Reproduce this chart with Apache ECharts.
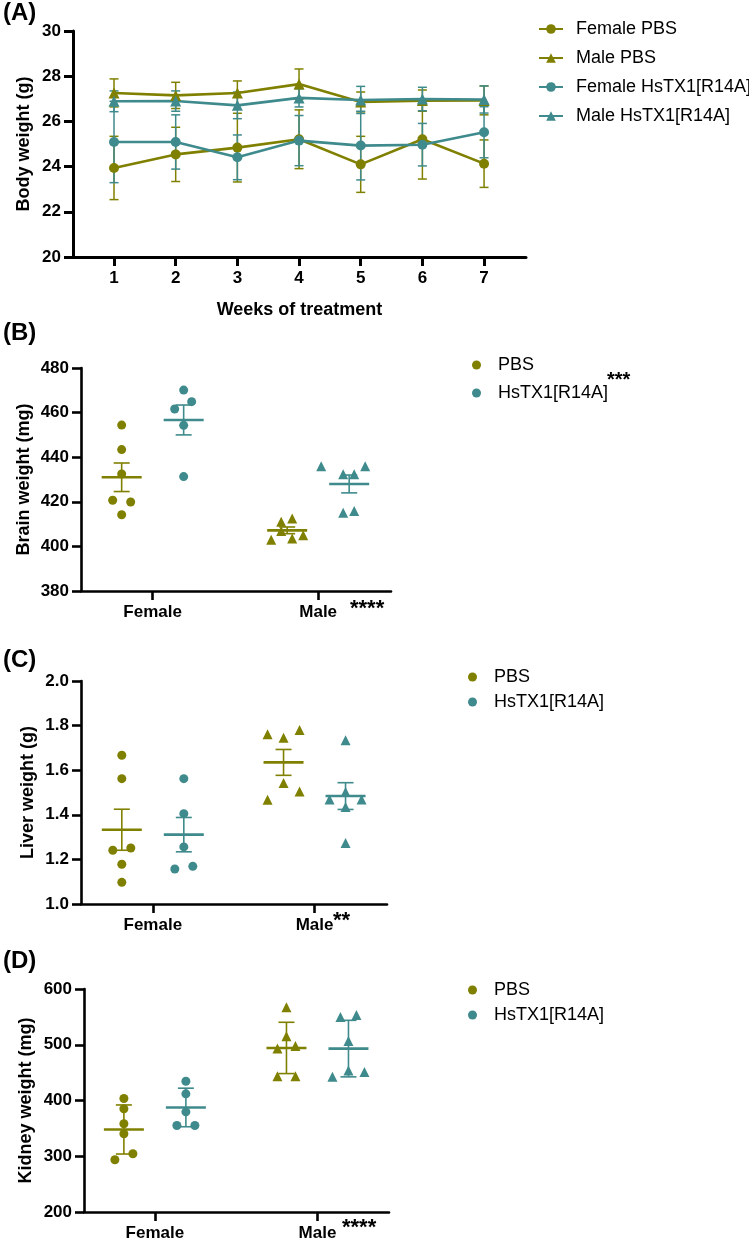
<!DOCTYPE html>
<html>
<head>
<meta charset="utf-8">
<script src="https://cdn.jsdelivr.net/npm/echarts@6/dist/echarts.min.js"></script>
<style>
  html, body { margin: 0; padding: 0; background: #fff; }
  #main { width: 749px; height: 1243px; }
</style>
</head>
<body>
<div id="main"></div>
<script>
// ---------------- DATA ----------------
// Panel A: body weight (g) by week
const weeks = [1, 2, 3, 4, 5, 6, 7];
const femalePBS      = [23.94, 24.54, 24.84, 25.21, 24.10, 25.21, 24.13];
const femalePBSErr   = [1.40, 1.20, 1.52, 1.30, 1.24, 1.76, 1.05];
const malePBS        = [27.26, 27.15, 27.26, 27.65, 26.86, 26.92, 26.93];
const malePBSErr     = [0.62, 0.58, 0.53, 0.67, 0.44, 0.47, 0.64];
const femaleHs       = [25.09, 25.09, 24.41, 25.15, 24.93, 24.97, 25.52];
const femaleHsErr    = [1.80, 1.20, 0.99, 1.11, 1.52, 0.94, 1.13];
const maleHs         = [26.89, 26.90, 26.71, 27.04, 26.95, 26.99, 26.97];
const maleHsErr      = [0.46, 0.45, 0.59, 0.40, 0.60, 0.52, 0.60];

const sexCategories = ['Female', 'Male'];

// Panel B: brain weight (mg)
const brainFemalePBS = [454.4, 443.4, 432.5, 420.7, 419.9, 414.2];
const brainFemaleHs  = [470.1, 464.9, 461.6, 454.3, 431.3];
const brainMalePBS   = [403.0, 411.1, 412.5, 406.9, 403.5, 405.0];
const brainMaleHs    = [435.9, 432.3, 432.3, 435.9, 415.1, 415.9];
const brainMeanPBS   = [431.0, 407.2];
const brainErrPBS    = [6.4, 1.5];
const brainMeanHs    = [456.7, 428.0];
const brainErrHs     = [6.7, 4.0];

// Panel C: liver weight (g)
const liverFemalePBS = [1.667, 1.562, 1.241, 1.251, 1.178, 1.097];
const liverFemaleHs  = [1.562, 1.405, 1.256, 1.157, 1.169];
const liverMalePBS   = [1.761, 1.746, 1.780, 1.543, 1.505, 1.468];
const liverMaleHs    = [1.734, 1.502, 1.469, 1.469, 1.435, 1.274];
const liverMeanPBS   = [1.333, 1.635];
const liverErrPBS    = [0.092, 0.058];
const liverMeanHs    = [1.311, 1.484];
const liverErrHs     = [0.077, 0.060];

// Panel D: kidney weight (mg)
const kidneyFemalePBS = [403.6, 385.1, 358.2, 340.3, 304.5, 293.7];
const kidneyFemaleHs  = [434.6, 411.9, 379.7, 355.2, 355.2];
const kidneyMalePBS   = [567.2, 515.2, 493.1, 497.9, 443.6, 443.6];
const kidneyMaleHs    = [549.9, 553.4, 506.9, 442.4, 453.7, 451.3];
const kidneyMeanPBS   = [348.0, 494.3];
const kidneyErrPBS    = [44.0, 46.0];
const kidneyMeanHs    = [387.5, 493.1];
const kidneyErrHs     = [34.6, 50.7];

// ---------------- LAYOUT / STYLE ----------------
const OLIVE = '#808000';
const TEAL = '#3f8a8c';
const FONT = "'Liberation Sans', Arial, sans-serif";
const GROUP_OFF = 31; // px offset of each treatment group from the category tick

// point jitter in px (layout only)
const jit = {
  B: { fP: [0, 0, 0, -9, 9, 0], fH: [0, 8, -9, 0, 0], mP: [-16, -6, 5, -6, 5, 16], mH: [-28, -6, 5, 16, -6, 5] },
  C: { fP: [0, 0, -9, 9, 0, 0], fH: [0, 0, 0, -9, 9], mP: [-16, 0, 16, 0, 16, -16], mH: [0, 0, -16, 16, 0, 0] },
  D: { fP: [0, 0, 0, 0, 9, -9], fH: [0, 0, 0, -9, 9], mP: [0, 0, -9, 9, -9, 9], mH: [-8, 8, 0, -16, 0, 16] }
};

function errBarRender(capPx, lw) {
  return function (params, api) {
    const x = api.value(0), lo = api.value(1), hi = api.value(2);
    const a = api.coord([x, hi]), b = api.coord([x, lo]);
    const col = api.visual('color');
    const st = { stroke: col, lineWidth: lw };
    return {
      type: 'group', children: [
        { type: 'line', shape: { x1: a[0], y1: a[1], x2: b[0], y2: b[1] }, style: st },
        { type: 'line', shape: { x1: a[0] - capPx / 2, y1: a[1], x2: a[0] + capPx / 2, y2: a[1] }, style: st },
        { type: 'line', shape: { x1: b[0] - capPx / 2, y1: b[1], x2: b[0] + capPx / 2, y2: b[1] }, style: st }
      ]
    };
  };
}

function meanRender(offPx) {
  return function (params, api) {
    const x = api.value(0), m = api.value(1), e = api.value(2);
    const c = api.coord([x, m]), t = api.coord([x, m + e]), b = api.coord([x, m - e]);
    const cx = c[0] + offPx;
    const col = api.visual('color');
    const thin = { stroke: col, lineWidth: 1.6 };
    return {
      type: 'group', children: [
        { type: 'line', shape: { x1: cx - 20, y1: c[1], x2: cx + 20, y2: c[1] }, style: { stroke: col, lineWidth: 2.6 } },
        { type: 'line', shape: { x1: cx, y1: t[1], x2: cx, y2: b[1] }, style: thin },
        { type: 'line', shape: { x1: cx - 8, y1: t[1], x2: cx + 8, y2: t[1] }, style: thin },
        { type: 'line', shape: { x1: cx - 8, y1: b[1], x2: cx + 8, y2: b[1] }, style: thin }
      ]
    };
  };
}

function pointData(fVals, fJit, mVals, mJit, off) {
  const out = [];
  fVals.forEach((v, i) => out.push({ value: [1, v], symbol: 'circle', symbolSize: 9, symbolOffset: [off + fJit[i], 0] }));
  mVals.forEach((v, i) => out.push({ value: [2, v], symbol: 'triangle', symbolSize: 10, symbolOffset: [off + mJit[i], 0] }));
  return out;
}

const axisLineStyle = { color: '#000', width: 2.6 };
const tickStyle = { color: '#000', width: 2.6 };
const labelStyle = { color: '#000', fontWeight: 'bold', fontSize: 17, fontFamily: FONT };
const nameStyle = { color: '#000', fontWeight: 'bold', fontSize: 18, fontFamily: FONT };

function catXAxis(gi, min, max) {
  return {
    gridIndex: gi, type: 'value', min: min, max: max,
    axisLine: { show: true, onZero: false, lineStyle: axisLineStyle },
    axisTick: { show: true, length: 9, lineStyle: tickStyle, customValues: [1, 2] },
    axisLabel: Object.assign({ margin: 13, customValues: [1, 2], formatter: v => sexCategories[Math.round(v) - 1] }, labelStyle),
    splitLine: { show: false }
  };
}
function valYAxis(gi, min, max, interval, name, gap, fmt) {
  return {
    gridIndex: gi, type: 'value', min: min, max: max, interval: interval,
    name: name, nameLocation: 'middle', nameGap: gap, nameMoveOverlap: false, nameTextStyle: nameStyle,
    axisLine: { show: true, lineStyle: axisLineStyle },
    axisTick: { show: true, length: 9, lineStyle: tickStyle },
    axisLabel: Object.assign({ margin: 12, formatter: fmt }, labelStyle),
    splitLine: { show: false }
  };
}

const series = [];
// Panel A error bars
[[femalePBS, femalePBSErr, OLIVE], [malePBS, malePBSErr, OLIVE], [femaleHs, femaleHsErr, TEAL], [maleHs, maleHsErr, TEAL]].forEach(([vals, errs, col]) => {
  series.push({
    type: 'custom', xAxisIndex: 0, yAxisIndex: 0, z: 1,
    itemStyle: { color: col },
    renderItem: errBarRender(9, 1.5),
    encode: { x: 0, y: [1, 2] },
    data: weeks.map((w, i) => [w, vals[i] - errs[i], vals[i] + errs[i]])
  });
});
// Panel A lines
[['Female PBS', femalePBS, OLIVE, 'circle', 10], ['Male PBS', malePBS, OLIVE, 'triangle', 11],
 ['Female HsTX1[R14A]', femaleHs, TEAL, 'circle', 10], ['Male HsTX1[R14A]', maleHs, TEAL, 'triangle', 11]].forEach(([name, vals, col, sym, sz]) => {
  series.push({
    name: name, type: 'line', xAxisIndex: 0, yAxisIndex: 0, z: 3,
    symbol: sym, symbolSize: sz, showAllSymbol: true,
    itemStyle: { color: col }, lineStyle: { color: col, width: 2.6 },
    data: weeks.map((w, i) => [w, vals[i]])
  });
});

// Panels B-D
const panels = [
  { gi: 1, fP: brainFemalePBS, fH: brainFemaleHs, mP: brainMalePBS, mH: brainMaleHs, mPBS: brainMeanPBS, ePBS: brainErrPBS, mHs: brainMeanHs, eHs: brainErrHs, j: jit.B },
  { gi: 2, fP: liverFemalePBS, fH: liverFemaleHs, mP: liverMalePBS, mH: liverMaleHs, mPBS: liverMeanPBS, ePBS: liverErrPBS, mHs: liverMeanHs, eHs: liverErrHs, j: jit.C },
  { gi: 3, fP: kidneyFemalePBS, fH: kidneyFemaleHs, mP: kidneyMalePBS, mH: kidneyMaleHs, mPBS: kidneyMeanPBS, ePBS: kidneyErrPBS, mHs: kidneyMeanHs, eHs: kidneyErrHs, j: jit.D }
];
panels.forEach(p => {
  series.push({
    name: 'PBS', type: 'scatter', xAxisIndex: p.gi, yAxisIndex: p.gi, symbol: 'circle', symbolSize: 9,
    itemStyle: { color: OLIVE, opacity: 1 }, z: 3,
    data: pointData(p.fP, p.j.fP, p.mP, p.j.mP, -GROUP_OFF)
  });
  series.push({
    name: 'HsTX1[R14A]', type: 'scatter', xAxisIndex: p.gi, yAxisIndex: p.gi, symbol: 'circle', symbolSize: 9,
    itemStyle: { color: TEAL, opacity: 1 }, z: 3,
    data: pointData(p.fH, p.j.fH, p.mH, p.j.mH, GROUP_OFF)
  });
  series.push({
    type: 'custom', xAxisIndex: p.gi, yAxisIndex: p.gi, z: 4, itemStyle: { color: OLIVE },
    renderItem: meanRender(-GROUP_OFF), encode: { x: 0, y: 1 },
    data: sexCategories.map((c, i) => [i + 1, p.mPBS[i], p.ePBS[i]])
  });
  series.push({
    type: 'custom', xAxisIndex: p.gi, yAxisIndex: p.gi, z: 4, itemStyle: { color: TEAL },
    renderItem: meanRender(GROUP_OFF), encode: { x: 0, y: 1 },
    data: sexCategories.map((c, i) => [i + 1, p.mHs[i], p.eHs[i]])
  });
});

const legendText = { color: '#000', fontSize: 18, fontFamily: FONT };
function scatterLegend(top, left, gap) {
  return {
    data: ['PBS', 'HsTX1[R14A]'], orient: 'vertical', left: left, top: top,
    itemWidth: 9, itemHeight: 9, itemGap: gap, selectedMode: false,
    textStyle: Object.assign({ padding: [0, 0, 0, 12] }, legendText)
  };
}

function txt(x, y, s, size, weight) {
  return { type: 'text', left: x, top: y, style: { text: s, fontSize: size, fontWeight: weight || 'bold', fontFamily: FONT, fill: '#000' } };
}

const option = {
  animation: false,
  backgroundColor: '#fff',
  grid: [
    { left: 73, top: 31, width: 453, height: 226 },
    { left: 81, top: 368, width: 310, height: 223 },
    { left: 81, top: 681, width: 306, height: 223 },
    { left: 84, top: 989, width: 305, height: 223 }
  ],
  xAxis: [
    {
      gridIndex: 0, type: 'value', min: 0.335, max: 7.68,
      name: 'Weeks of treatment', nameLocation: 'middle', nameGap: 44, nameTextStyle: nameStyle,
      axisLine: { show: true, onZero: false, lineStyle: { color: '#000', width: 3 } },
      axisTick: { show: true, length: 9, lineStyle: { color: '#000', width: 3 }, customValues: weeks },
      axisLabel: Object.assign({ margin: 13, customValues: weeks }, labelStyle),
      splitLine: { show: false }
    },
    catXAxis(1, 0.567, 2.44),
    catXAxis(2, 0.556, 2.448),
    catXAxis(3, 0.564, 2.44)
  ],
  yAxis: [
    Object.assign(valYAxis(0, 20, 30, 2, 'Body weight (g)', 40), { axisLine: { show: true, lineStyle: { color: '#000', width: 3 } }, axisTick: { show: true, length: 9, lineStyle: { color: '#000', width: 3 } } }),
    valYAxis(1, 380, 480, 20, 'Brain weight (mg)', 48),
    valYAxis(2, 1.0, 2.0, 0.2, 'Liver weight (g)', 44, v => v.toFixed(1)),
    valYAxis(3, 200, 600, 100, 'Kidney weight (mg)', 49)
  ],
  legend: [
    {
      data: ['Female PBS', 'Male PBS', 'Female HsTX1[R14A]', 'Male HsTX1[R14A]'],
      orient: 'vertical', left: 533, top: 15, itemWidth: 24, itemHeight: 12, itemGap: 11,
      selectedMode: false, textStyle: Object.assign({ padding: [0, 0, 0, 8] }, legendText)
    },
    scatterLegend(351, 467, 10),
    scatterLegend(663, 463, 7),
    scatterLegend(976, 463, 7)
  ],
  graphic: [
    txt(3, 1, '(A)', 24),
    txt(3, 321, '(B)', 24),
    txt(3, 648, '(C)', 24),
    txt(3, 949, '(D)', 24),
    txt(607, 370, '***', 20),
    txt(350, 598, '****', 22),
    txt(333, 910, '**', 22),
    txt(342, 1217, '****', 22)
  ],
  series: series
};

const chart = echarts.init(document.getElementById('main'), null, { renderer: 'canvas' });
chart.setOption(option);
</script>
</body>
</html>
